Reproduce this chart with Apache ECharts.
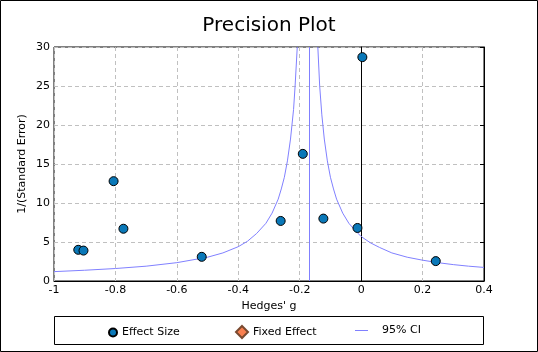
<!DOCTYPE html>
<html>
<head>
<meta charset="utf-8">
<script src="https://cdn.jsdelivr.net/npm/echarts@6/dist/echarts.min.js"></script>
<style>
  html, body { margin: 0; padding: 0; background: #fff; }
  #chart { width: 538px; height: 352px; }
</style>
</head>
<body>
<div id="chart"></div>
<script>
// effect sizes (Hedges' g) and their precision 1/SE
const effectX = [-0.921, -0.904, -0.806, -0.774, -0.519, -0.262, -0.19, -0.123, -0.012, 0.004, 0.243];
const effectY = [4.0, 3.9, 12.8, 6.7, 3.1, 7.7, 16.3, 8.0, 6.8, 28.7, 2.55];
const fixedEffect = -0.175;
const nullEffect = 0;

// 95% CI funnel
const ciLeftX = [-1, -0.9, -0.8, -0.7, -0.6, -0.5, -0.45, -0.4, -0.37, -0.34, -0.31, -0.29, -0.27, -0.26, -0.25, -0.24, -0.23, -0.22, -0.215, -0.208];
const ciLeftY = [1.2, 1.38, 1.6, 1.9, 2.35, 3.05, 3.6, 4.4, 5.1, 6.1, 7.4, 8.7, 10.5, 11.8, 13.3, 15.4, 18.2, 22, 25, 30];
const ciRightX = [-0.141, -0.135, -0.128, -0.12, -0.11, -0.1, -0.09, -0.08, -0.06, -0.04, -0.02, 0, 0.03, 0.06, 0.1, 0.15, 0.2, 0.25, 0.3, 0.35, 0.4];
const ciRightY = [30, 25, 21.3, 18.2, 15.4, 13.3, 11.8, 10.5, 8.7, 7.4, 6.5, 5.7, 4.9, 4.3, 3.6, 3.05, 2.67, 2.35, 2.1, 1.9, 1.74];

const xMin = -1, xMax = 0.4, xStep = 0.2;
const yMin = 0, yMax = 30, yStep = 5;

const pairs = (xs, ys) => xs.map((x, i) => [x, ys[i]]);
const font = 'DejaVu Sans';
const ciColor = '#8080ff';

const chart = echarts.init(document.getElementById('chart'));
chart.setOption({
  animation: false,
  title: {
    text: 'Precision Plot',
    left: 'center',
    top: 11,
    textStyle: { fontFamily: font, fontSize: 20, fontWeight: 'normal', color: '#000' }
  },
  grid: { left: 54, right: 54, top: 47, bottom: 71, show: true, borderColor: '#000', borderWidth: 1 },
  xAxis: {
    type: 'value', min: xMin, max: xMax, interval: xStep,
    name: "Hedges' g", nameLocation: 'middle', nameGap: 16,
    nameTextStyle: { fontFamily: font, fontSize: 11, color: '#000' },
    axisLine: { lineStyle: { color: '#000' } },
    axisTick: { show: false },
    axisLabel: { fontFamily: font, fontSize: 11, color: '#000', margin: 4,
      formatter: v => String(Math.round(v * 10) / 10) },
    splitLine: { show: true, lineStyle: { color: '#c0c0c0', type: [4, 3] } }
  },
  yAxis: [{
    type: 'value', min: yMin, max: yMax, interval: yStep,
    name: '1/(Standard Error)', nameLocation: 'middle', nameGap: 26, nameMoveOverlap: false,
    nameTextStyle: { fontFamily: font, fontSize: 11, color: '#000' },
    axisLine: { show: true, lineStyle: { color: '#000' } },
    axisTick: { show: false },
    axisLabel: { fontFamily: font, fontSize: 11, color: '#000', margin: 4 },
    splitLine: { show: true, lineStyle: { color: '#c0c0c0', type: [4, 3] } }
  }, {
    type: 'value', min: yMin, max: yMax, interval: yStep, position: 'right',
    axisLine: { show: true, lineStyle: { color: '#000' } },
    axisTick: { show: true, inside: true, length: 4, lineStyle: { color: '#000' } },
    axisLabel: { show: false },
    splitLine: { show: false }
  }],
  legend: [
    { data: ['Effect Size'], left: 103, top: 322, itemWidth: 8, itemHeight: 8,
      textStyle: { fontFamily: font, fontSize: 11, color: '#000' } },
    { data: ['Fixed Effect'], left: 230, top: 320, itemWidth: 12, itemHeight: 12,
      textStyle: { fontFamily: font, fontSize: 11, color: '#000' } },
    { data: [{ name: '95% CI', icon: 'rect' }], left: 350, top: 320, itemWidth: 13, itemHeight: 1,
      itemStyle: { color: ciColor },
      textStyle: { fontFamily: font, fontSize: 11, color: '#000', padding: [0, 0, 0, 9] } }
  ],
  graphic: [
    { type: 'rect', shape: { x: 0.5, y: 0.5, width: 537, height: 351 },
      style: { fill: 'none', stroke: '#000', lineWidth: 1 } },
    { type: 'rect', shape: { x: 54.5, y: 316.5, width: 429, height: 28 },
      style: { fill: 'none', stroke: '#000', lineWidth: 1 } }
  ],
  series: [
    {
      name: '95% CI', type: 'line', data: pairs(ciLeftX, ciLeftY),
      symbol: 'none', smooth: false, clip: true,
      lineStyle: { color: ciColor, width: 1 }, itemStyle: { color: ciColor },
      markLine: {
        silent: true, symbol: 'none', label: { show: false },
        lineStyle: { color: ciColor, type: 'solid', width: 1 },
        data: [{ xAxis: fixedEffect }]
      }
    },
    {
      name: '95% CI', type: 'line', data: pairs(ciRightX, ciRightY),
      symbol: 'none', smooth: false, clip: true,
      lineStyle: { color: ciColor, width: 1 }, itemStyle: { color: ciColor }
    },
    {
      name: 'Fixed Effect', type: 'scatter', data: [],
      symbol: 'diamond', symbolSize: 12,
      itemStyle: { color: '#fa8050', borderColor: '#7a4a30', borderWidth: 1, opacity: 1 }
    },
    {
      name: 'Effect Size', type: 'scatter', data: pairs(effectX, effectY),
      symbol: 'circle', symbolSize: 9, z: 5,
      itemStyle: { color: '#0a78b8', borderColor: '#000', borderWidth: 1, opacity: 1 },
      markLine: {
        silent: true, symbol: 'none', label: { show: false },
        lineStyle: { color: '#000', type: [4, 4], width: 1, opacity: 1 },
        data: [{ xAxis: nullEffect }]
      }
    }
  ]
});
</script>
</body>
</html>
